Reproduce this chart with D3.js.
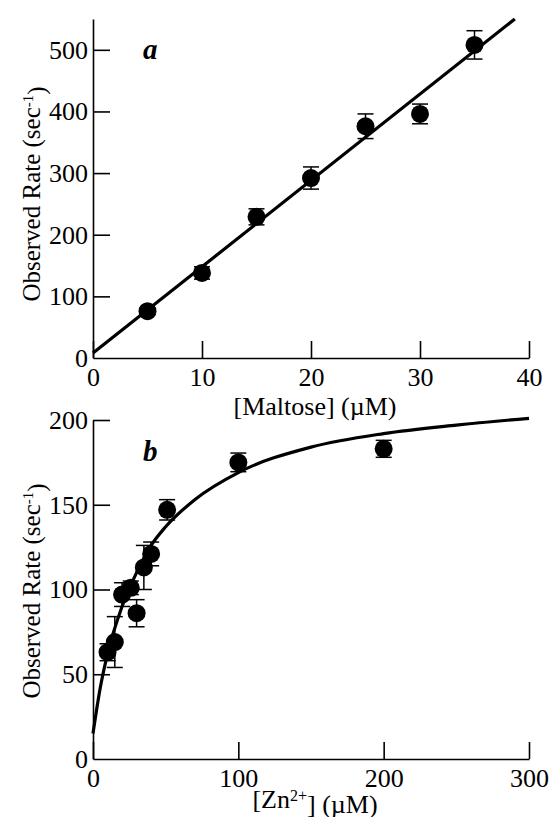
<!DOCTYPE html>
<html>
<head>
<meta charset="utf-8">
<script src="https://cdn.jsdelivr.net/npm/d3@7"></script>
<style>
  body { margin: 0; background: #fff; }
  svg { font-family: 'Liberation Serif', 'Times New Roman', Times, 'DejaVu Serif', serif; }
  .axis path, .axis line { stroke: #000; stroke-width: 1.6; }
</style>
</head>
<body>
<svg id="chart" width="551" height="817"></svg>
<script>
// panel a: maltose
const maltoseConc = [5, 10, 15, 20, 25, 30, 35];
const maltoseRate = [76, 138, 229, 292, 376, 396, 508];
const maltoseErr = [5, 10, 13, 18, 20, 16, 23];
const maltoseFitX = [0, 38.7];
const maltoseFitY = [8, 550];
const maltoseTicksX = [0, 10, 20, 30, 40];
const maltoseTicksY = [0, 100, 200, 300, 400, 500];

// panel b: zinc
const zincConc = [10, 15, 20, 26, 30, 35, 40, 51, 100, 200];
const zincRate = [63, 69, 97, 101, 86, 113, 121, 147, 175, 183];
const zincErr = [5, 15, 7, 4, 8, 13, 7, 6, 5.5, 5];
const zincFitX = [0, 5, 10, 20, 30, 40, 50, 70, 100, 150, 200, 250, 300];
const zincFitY = [15, 42, 62, 90, 110, 126, 137, 153, 169, 184, 192, 197, 201];
const zincTicksX = [0, 100, 200, 300];
const zincTicksY = [0, 50, 100, 150, 200];

const serif = "'Liberation Serif', 'Times New Roman', Times, serif";
const svg = d3.select("#chart");

function drawPanel(cfg) {
  const g = svg.append("g");
  const x = d3.scaleLinear().domain(cfg.xDomain).range([93, 529]);
  const y = d3.scaleLinear().domain(cfg.yDomain).range(cfg.yRange);

  // axes with inward ticks
  g.append("g")
    .attr("class", "axis")
    .attr("transform", `translate(0,${cfg.yRange[0]})`)
    .call(d3.axisBottom(x).tickValues(cfg.xTicks).tickSizeInner(-17).tickSizeOuter(0).tickPadding(7))
    .call(a => a.attr("font-family", serif).attr("font-size", 26))
    .call(a => a.selectAll("text").attr("dy", "0.8em"));

  g.append("g")
    .attr("class", "axis")
    .attr("transform", "translate(93,0)")
    .call(d3.axisLeft(y).tickValues(cfg.yTicks).tickSizeInner(-17).tickSizeOuter(0).tickPadding(5))
    .call(a => a.attr("font-family", serif).attr("font-size", 26))
    .call(a => a.selectAll(".tick").filter(d => d === 0).select("line").remove());

  // fit line
  const line = d3.line()
    .x(d => x(d[0]))
    .y(d => y(d[1]))
    .curve(d3.curveMonotoneX);
  g.append("path")
    .datum(d3.zip(cfg.fitX, cfg.fitY))
    .attr("d", line)
    .attr("fill", "none")
    .attr("stroke", "#000")
    .attr("stroke-width", 3.2);

  const pts = cfg.xs.map((v, i) => ({ x: v, y: cfg.ys[i], e: cfg.errs[i] }));

  // error bars
  const eb = g.selectAll(".err").data(pts).enter().append("g")
    .attr("stroke", "#000").attr("stroke-width", 1.5);
  eb.append("line")
    .attr("x1", d => x(d.x)).attr("x2", d => x(d.x))
    .attr("y1", d => y(d.y - d.e)).attr("y2", d => y(d.y + d.e));
  eb.append("line")
    .attr("x1", d => x(d.x) - 8).attr("x2", d => x(d.x) + 8)
    .attr("y1", d => y(d.y + d.e)).attr("y2", d => y(d.y + d.e));
  eb.append("line")
    .attr("x1", d => x(d.x) - 8).attr("x2", d => x(d.x) + 8)
    .attr("y1", d => y(d.y - d.e)).attr("y2", d => y(d.y - d.e));

  // points
  g.selectAll("circle").data(pts).enter().append("circle")
    .attr("cx", d => x(d.x))
    .attr("cy", d => y(d.y))
    .attr("r", 9)
    .attr("fill", "#000");

  // panel letter
  g.append("text")
    .attr("x", 143).attr("y", cfg.letterY)
    .style("font-family", serif)
    .style("font-size", "29px")
    .style("font-weight", "bold")
    .style("font-style", "italic")
    .text(cfg.letter);

  // y title
  const yt = g.append("text")
    .attr("transform", `translate(40,${cfg.yTitleY}) rotate(-90)`)
    .attr("text-anchor", "middle")
    .style("font-family", serif)
    .style("font-size", "25px");
  yt.append("tspan").text("Observed Rate (sec");
  yt.append("tspan").attr("dy", "-0.5em").style("font-size", "15px").text("-1");
  yt.append("tspan").attr("dy", "0.5em").text(")");

  // x title
  const xt = g.append("text")
    .attr("x", 315).attr("y", cfg.xTitleY)
    .attr("text-anchor", "middle")
    .style("font-family", serif)
    .style("font-size", "26px");
  cfg.xTitle(xt);
}

drawPanel({
  xDomain: [0, 40], yDomain: [0, 550], yRange: [358, 19],
  xTicks: maltoseTicksX, yTicks: maltoseTicksY,
  xs: maltoseConc, ys: maltoseRate, errs: maltoseErr,
  fitX: maltoseFitX, fitY: maltoseFitY,
  letter: "a", letterY: 59, yTitleY: 194, xTitleY: 415,
  xTitle: t => t.text("[Maltose] (\u00B5M)")
});

drawPanel({
  xDomain: [0, 300], yDomain: [0, 200], yRange: [759, 420],
  xTicks: zincTicksX, yTicks: zincTicksY,
  xs: zincConc, ys: zincRate, errs: zincErr,
  fitX: zincFitX, fitY: zincFitY,
  letter: "b", letterY: 461, yTitleY: 591, xTitleY: 808,
  xTitle: t => {
    t.append("tspan").text("[Zn");
    t.append("tspan").attr("dy", "-0.45em").style("font-size", "16px").text("2+");
    t.append("tspan").attr("dy", "0.45em").text("] (\u00B5M)");
  }
});
</script>
</body>
</html>
